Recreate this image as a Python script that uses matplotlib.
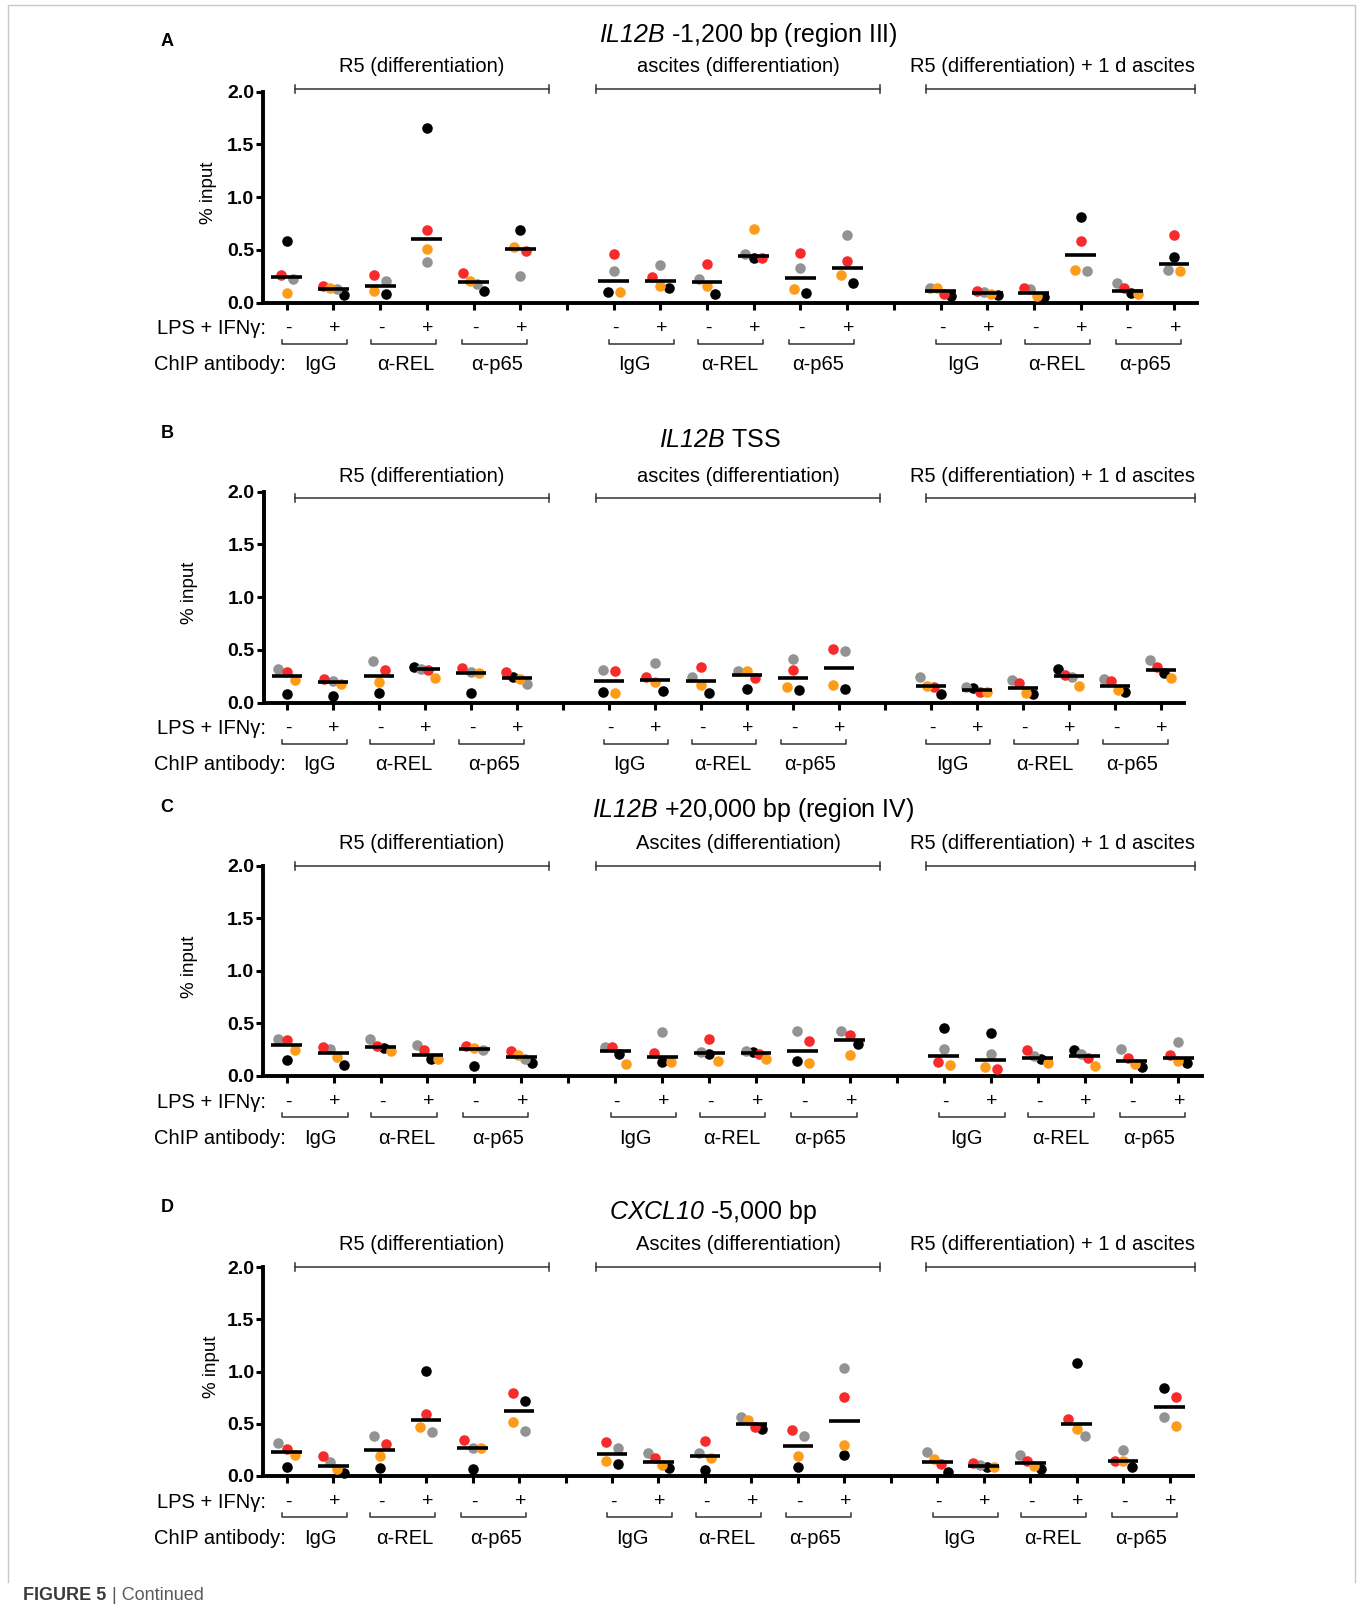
import numpy as np
import matplotlib
matplotlib.use('Agg')
import matplotlib.pyplot as plt
from matplotlib.lines import Line2D

plt.rcParams['font.family'] = ['Liberation Sans', 'DejaVu Sans']
plt.rcParams['mathtext.fontset'] = 'custom'
plt.rcParams['mathtext.it'] = 'Liberation Sans:italic'
# digits inside \mathit fall back to rm, keep them italic too
plt.rcParams['mathtext.rm'] = 'Liberation Sans:italic'

# 18 conditions per panel: 3 culture groups x (IgG, a-REL, a-p65) x (-, +)
treatment = ['-', '+'] * 9
antibodies = ['IgG', 'α-REL', 'α-p65']
donor_colors = ['#000000', '#939393', '#f82a2a', '#fd9b1a']

titles = [r'$\mathit{IL12B}$ -1,200 bp (region III)',
          r'$\mathit{IL12B}$ TSS',
          r'$\mathit{IL12B}$ +20,000 bp (region IV)',
          r'$\mathit{CXCL10}$ -5,000 bp']
panel_letters = ['A', 'B', 'C', 'D']
groups_lower = ['R5 (differentiation)', 'ascites (differentiation)',
                'R5 (differentiation) + 1 d ascites']
groups_upper = ['R5 (differentiation)', 'Ascites (differentiation)',
                'R5 (differentiation) + 1 d ascites']
group_labels = [groups_lower, groups_lower, groups_upper, groups_upper]

# % input, one list per donor (black, gray, red, orange)
a_black = [0.588, 0.07, 0.082, 1.66, 0.114, 0.686, 0.105, 0.136, 0.085, 0.427, 0.088, 0.186,
           0.063, 0.075, 0.05, 0.815, 0.095, 0.43]
a_gray = [0.22, 0.126, 0.205, 0.39, 0.177, 0.256, 0.30, 0.354, 0.227, 0.458, 0.332, 0.645,
          0.136, 0.10, 0.126, 0.303, 0.19, 0.313]
a_red = [0.26, 0.158, 0.26, 0.69, 0.278, 0.49, 0.461, 0.246, 0.37, 0.427, 0.474, 0.395,
         0.079, 0.11, 0.136, 0.588, 0.136, 0.638]
a_orange = [0.095, 0.136, 0.107, 0.51, 0.209, 0.524, 0.10, 0.158, 0.158, 0.695, 0.13, 0.265,
            0.136, 0.078, 0.063, 0.31, 0.082, 0.303]

b_black = [0.082, 0.06, 0.095, 0.341, 0.095, 0.243, 0.104, 0.107, 0.095, 0.133, 0.117, 0.126,
           0.082, 0.142, 0.079, 0.316, 0.104, 0.278]
b_gray = [0.322, 0.209, 0.398, 0.322, 0.29, 0.177, 0.31, 0.376, 0.24, 0.30, 0.41, 0.49,
          0.246, 0.152, 0.215, 0.24, 0.227, 0.404]
b_red = [0.294, 0.221, 0.313, 0.31, 0.325, 0.29, 0.30, 0.246, 0.335, 0.23, 0.31, 0.512,
         0.152, 0.104, 0.183, 0.262, 0.205, 0.341]
b_orange = [0.218, 0.177, 0.199, 0.237, 0.278, 0.227, 0.092, 0.193, 0.164, 0.30, 0.152, 0.164,
            0.158, 0.104, 0.095, 0.161, 0.117, 0.237]

c_black = [0.149, 0.101, 0.27, 0.158, 0.098, 0.124, 0.206, 0.136, 0.21, 0.231, 0.139, 0.301,
           0.453, 0.406, 0.158, 0.25, 0.089, 0.127]
c_gray = [0.355, 0.26, 0.355, 0.292, 0.245, 0.162, 0.279, 0.418, 0.23, 0.241, 0.425, 0.425,
          0.257, 0.209, 0.19, 0.209, 0.253, 0.326]
c_red = [0.342, 0.279, 0.29, 0.25, 0.285, 0.241, 0.279, 0.222, 0.349, 0.209, 0.33, 0.393,
         0.13, 0.067, 0.244, 0.174, 0.174, 0.2]
c_orange = [0.25, 0.184, 0.238, 0.158, 0.27, 0.2, 0.114, 0.136, 0.146, 0.165, 0.124, 0.203,
            0.108, 0.089, 0.12, 0.095, 0.114, 0.143]

d_black = [0.089, 0.032, 0.08, 1.006, 0.07, 0.719, 0.112, 0.08, 0.058, 0.454, 0.083, 0.198,
           0.042, 0.089, 0.064, 1.08, 0.083, 0.84]
d_gray = [0.319, 0.137, 0.383, 0.422, 0.272, 0.431, 0.272, 0.217, 0.217, 0.562, 0.383, 1.035,
          0.23, 0.105, 0.201, 0.383, 0.249, 0.569]
d_red = [0.262, 0.192, 0.307, 0.594, 0.345, 0.796, 0.323, 0.169, 0.339, 0.466, 0.441, 0.757,
         0.112, 0.121, 0.144, 0.546, 0.147, 0.754]
d_orange = [0.198, 0.064, 0.192, 0.47, 0.272, 0.521, 0.141, 0.102, 0.169, 0.537, 0.192, 0.297,
            0.163, 0.083, 0.096, 0.454, 0.144, 0.482]

panels = [[a_black, a_gray, a_red, a_orange],
          [b_black, b_gray, b_red, b_orange],
          [c_black, c_gray, c_red, c_orange],
          [d_black, d_gray, d_red, d_orange]]

W, H = 1359, 1612
fig = plt.figure(figsize=(W / 100, H / 100), dpi=100)

# per panel layout in pixels: y of zero line, axis height, spacing of categories
layout = [dict(y0=302.7, h=211.0, sp=46.7, brk=89, title=(748, 35), ylab=(208, 193), letter=(167, 41)),
          dict(y0=702.7, h=211.0, sp=46.0, brk=498, title=(720, 440), ylab=(190, 593), letter=(167, 434)),
          dict(y0=1076.0, h=210.3, sp=46.93, brk=866, title=(753, 810), ylab=(190, 967), letter=(167, 808)),
          dict(y0=1476.0, h=208.7, sp=46.47, brk=1267, title=(713, 1212), ylab=(212, 1367), letter=(167, 1207))]

# culture group brackets sit at the same page position in every panel
group_spans = [(295, 549), (596, 880), (926, 1195)]
group_label_x = [422, 738, 1052]

# category slots on the x axis (gaps at 6 and 13)
xpos = [i for i in range(20) if i not in (6, 13)]
ab_bracket_off = [0.6, 0.5, 0.45]
ab_label_off = [[0.72, 0.55, 0.5], [0.44, 0.48, 0.37], [0.48, 0.49, 0.38]]


def fx(px):
    return px / W


def fy(py):
    return 1 - py / H


def swarm_offsets(vals, px_x, px_y, diam=10.0):
    # prism-like: dots closer than one diameter sit side by side
    vals = np.asarray(vals)
    order = np.argsort(vals, kind='stable')
    offs = np.zeros(len(vals))
    clusters, cur = [], [order[0]]
    for i in order[1:]:
        if (vals[i] - vals[cur[-1]]) * px_y < diam:
            cur.append(i)
        else:
            clusters.append(cur)
            cur = [i]
    clusters.append(cur)
    for cl in clusters:
        n = len(cl)
        if n == 1:
            continue
        step = 12.0 / np.sqrt(n - 1)
        cl = sorted(cl, key=lambda k: -vals[k])
        for j, k in enumerate(cl):
            offs[k] = (j - (n - 1) / 2) * step / px_x
    return offs


for p, (donors, lay) in enumerate(zip(panels, layout)):
    left = 286.7 - 0.5 * lay['sp']
    width = 20 * lay['sp']
    ax = fig.add_axes([fx(left), fy(lay['y0']), width / W, lay['h'] / H])
    px_y = lay['h'] / 2.0
    px_x = lay['sp']

    vals = np.array(donors)  # 4 x 18
    for c, x in enumerate(xpos):
        v = vals[:, c]
        offs = swarm_offsets(v, px_x, px_y)
        for d in range(4):
            ax.plot(x + offs[d], v[d], 'o', ms=7.6, color=donor_colors[d], mec='none',
                    clip_on=False, zorder=3)
        med = np.median(v)
        ax.plot([x - 0.33, x + 0.33], [med, med], color='black', lw=2.6,
                solid_capstyle='butt', zorder=4, clip_on=False)

    ax.set_xlim(-0.5, 19.5)
    ax.set_ylim(0, 2.0)
    ax.set_yticks([0, 0.5, 1.0, 1.5, 2.0])
    ax.set_yticklabels(['0.0', '0.5', '1.0', '1.5', '2.0'], fontsize=14, fontweight='bold')
    ax.set_xticks(range(20))
    ax.set_xticklabels([])
    for s in ['top', 'right']:
        ax.spines[s].set_visible(False)
    for s in ['left', 'bottom']:
        ax.spines[s].set_linewidth(2.8)
    ax.tick_params(axis='both', direction='out', length=5, width=2.2, pad=1.5)
    ax.patch.set_alpha(0)

    # title, panel letter, y label
    fig.text(fx(lay['title'][0]), fy(lay['title'][1]), titles[p], ha='center', va='center',
             fontsize=18)
    fig.text(fx(lay['letter'][0]), fy(lay['letter'][1]), panel_letters[p],
             fontsize=13, fontweight='bold', ha='center', va='center')
    fig.text(fx(lay['ylab'][0]), fy(lay['ylab'][1]), '% input', rotation=90,
             fontsize=13.5, ha='center', va='center')

    # culture group brackets
    yb = lay['brk']
    for g, (x0, x1) in enumerate(group_spans):
        kw = dict(transform=fig.transFigure, color='#333333', lw=1.1)
        fig.add_artist(Line2D([fx(x0), fx(x1)], [fy(yb), fy(yb)], **kw))
        fig.add_artist(Line2D([fx(x0), fx(x0)], [fy(yb - 4), fy(yb + 4)], **kw))
        fig.add_artist(Line2D([fx(x1), fx(x1)], [fy(yb - 4), fy(yb + 4)], **kw))
        fig.text(fx(group_label_x[g]), fy(yb - 22), group_labels[p][g], ha='center',
                 va='center', fontsize=14.5)

    # treatment row and antibody row
    trans = ax.get_xaxis_transform()
    row1 = -26 / lay['h']
    row_br = -41 / lay['h']
    row2 = -62 / lay['h']
    ax.text(-0.45, row1, 'LPS + IFNγ:', transform=trans, ha='right', va='center', fontsize=14.5)
    ax.text(-0.02, row2, 'ChIP antibody:', transform=trans, ha='right', va='center', fontsize=14.5)
    for c, x in enumerate(xpos):
        ax.text(x + 0.03, row1, treatment[c], transform=trans, ha='center', va='center',
                fontsize=14)
    for k in range(9):
        xa = xpos[2 * k]
        mid = xa + ab_bracket_off[k % 3]
        bx0, bx1 = mid - 0.7, mid + 0.7
        up = 4 / lay['h']
        ax.plot([bx0, bx0, bx1, bx1], [row_br + up, row_br, row_br, row_br + up], transform=trans,
                color='#333333', lw=1.1, clip_on=False)
        ax.text(xa + ab_label_off[k // 3][k % 3], row2, antibodies[k % 3], transform=trans,
                ha='center', va='center', fontsize=14.5)

# light frame and footer
frame = Line2D([fx(8), fx(8), fx(1355), fx(1355)], [fy(1582), fy(5), fy(5), fy(1582)],
               transform=fig.transFigure, color='#c8c8c8', lw=1)
fig.add_artist(frame)
fig.text(fx(22.6), fy(1596), 'FIGURE 5', fontsize=13, fontweight='bold', color='#3a3a3a',
         ha='left', va='center')
fig.text(fx(112), fy(1596), '| Continued', fontsize=13, color='#5a5a5a', ha='left', va='center')

fig.savefig('out.png', dpi=100)
